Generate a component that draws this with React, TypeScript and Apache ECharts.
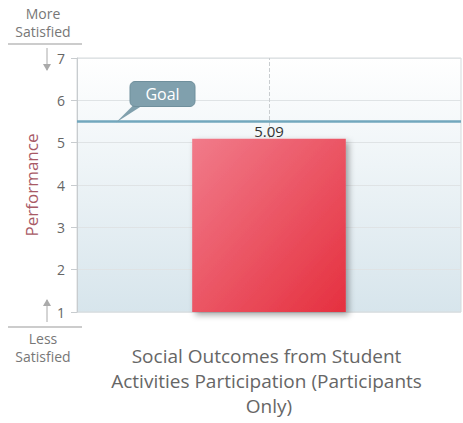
import React, { useEffect, useRef } from "react";
import * as echarts from "echarts";

const categories = ["Social Outcomes from Student Activities Participation (Participants Only)"];
const values = [5.09];
const goalValue = 5.5;
const yMin = 1;
const yMax = 7;
const yInterval = 1;
const topLabel = ["More", "Satisfied"];
const bottomLabel = ["Less", "Satisfied"];

export default function App() {
  const ref = useRef<HTMLDivElement>(null);
  useEffect(() => {
    if (!ref.current) return;
    const chart = echarts.init(ref.current, undefined, { renderer: "svg" });
    const font = "'Open Sans', 'DejaVu Sans', sans-serif";
    const gridLeft = 77;
    const gridTop = 58;
    const gridRight = 2;
    const gridBottom = 111;
    chart.setOption({
      animation: false,
      backgroundColor: "#ffffff",
      textStyle: { fontFamily: font },
      grid: {
        left: gridLeft,
        right: gridRight,
        top: gridTop,
        bottom: gridBottom,
        show: true,
        borderColor: "#d6dadc",
        borderWidth: 1,
        backgroundColor: new echarts.graphic.LinearGradient(0, 0, 0, 1, [
          { offset: 0, color: "#ffffff" },
          { offset: 1, color: "#d7e5ec" },
        ]),
      },
      xAxis: {
        type: "category",
        data: categories,
        axisLine: { show: false },
        axisTick: { show: false },
        splitLine: { show: false },
        axisLabel: {
          color: "#666",
          fontSize: 19,
          lineHeight: 25,
          width: 345,
          overflow: "break",
          margin: 31,
          fontFamily: font,
        },
      },
      yAxis: {
        type: "value",
        min: yMin,
        max: yMax,
        interval: yInterval,
        name: "Performance",
        nameLocation: "middle",
        nameGap: 37,
        nameTextStyle: { color: "#a85a66", fontSize: 17, fontFamily: font },
        axisLine: { show: true, lineStyle: { color: "#c8cccf" } },
        axisTick: { show: true, length: 6, lineStyle: { color: "#c8cccf" } },
        axisLabel: { color: "#666", fontSize: 14, margin: 12 },
        splitLine: { show: true, lineStyle: { color: "#dfe3e5" } },
      },
      series: [
        {
          type: "line",
          data: [],
          z: 1,
          silent: true,
          markLine: {
            symbol: "none",
            silent: true,
            z: 1,
            label: { show: false },
            data: [
              { xAxis: 0, lineStyle: { color: "#c9cdd0", width: 1, type: "dashed" } },
            ],
          },
        },
        {
          type: "bar",
          data: values,
          barWidth: "40%",
          z: 3,
          itemStyle: {
            color: new echarts.graphic.LinearGradient(0, 0, 1, 1, [
              { offset: 0, color: "#f17b8a" },
              { offset: 1, color: "#e5303f" },
            ]),
            shadowColor: "rgba(0,0,0,0.35)",
            shadowBlur: 6,
            shadowOffsetX: 3,
            shadowOffsetY: 3,
          },
          label: {
            show: true,
            position: "top",
            distance: 0,
            color: "#333",
            fontSize: 15,
            formatter: (p: any) => p.value.toFixed(2),
          },
          markLine: {
            symbol: "none",
            silent: true,
            z: 4,
            label: { show: false },
            data: [
              { yAxis: goalValue, lineStyle: { color: "#72a7bd", width: 2.5, type: "solid" } },
            ],
          },
        },
      ],
    });

    const gy = chart.convertToPixel({ yAxisIndex: 0 }, goalValue) as number;
    const y7 = chart.convertToPixel({ yAxisIndex: 0 }, yMax) as number;
    const y1 = chart.convertToPixel({ yAxisIndex: 0 }, yMin) as number;
    const bx = 130;
    const bw = 65;
    const bh = 25;
    const by = gy - 40;
    const small = `14px ${font}`;
    chart.setOption({
      graphic: [
        {
          type: "polygon",
          z: 10,
          shape: { points: [[116, gy + 1], [bx + 4, by + bh - 2], [bx + 14, by + bh - 2]] },
          style: { fill: "#80a0ad" },
        },
        {
          type: "rect",
          z: 10,
          shape: { x: bx, y: by, width: bw, height: bh, r: 5 },
          style: { fill: "#80a0ad", stroke: "#6f8f9c", lineWidth: 1 },
        },
        {
          type: "text",
          z: 11,
          x: bx + bw / 2,
          y: by + bh / 2,
          style: { text: "Goal", fill: "#ffffff", font: `16px ${font}`, align: "center", verticalAlign: "middle" },
        },
        {
          type: "text",
          x: 43,
          y: 13,
          style: { text: topLabel[0], fill: "#777", font: small, align: "center", verticalAlign: "middle" },
        },
        {
          type: "text",
          x: 43,
          y: 31,
          style: { text: topLabel[1], fill: "#777", font: small, align: "center", verticalAlign: "middle" },
        },
        {
          type: "line",
          shape: { x1: 8, y1: 44, x2: 82, y2: 44 },
          style: { stroke: "#999", lineWidth: 1 },
        },
        {
          type: "line",
          shape: { x1: 47, y1: y7 - 10, x2: 47, y2: y7 + 12 },
          style: { stroke: "#aaa", lineWidth: 1 },
        },
        {
          type: "polygon",
          shape: { points: [[43, y7 + 6], [51, y7 + 6], [47, y7 + 13]] },
          style: { fill: "#aaa" },
        },
        {
          type: "line",
          shape: { x1: 47, y1: y1 - 12, x2: 47, y2: y1 + 10 },
          style: { stroke: "#aaa", lineWidth: 1 },
        },
        {
          type: "polygon",
          shape: { points: [[43, y1 - 6], [51, y1 - 6], [47, y1 - 13]] },
          style: { fill: "#aaa" },
        },
        {
          type: "line",
          shape: { x1: 8, y1: y1 + 15, x2: 82, y2: y1 + 15 },
          style: { stroke: "#999", lineWidth: 1 },
        },
        {
          type: "text",
          x: 43,
          y: y1 + 26,
          style: { text: bottomLabel[0], fill: "#777", font: small, align: "center", verticalAlign: "middle" },
        },
        {
          type: "text",
          x: 43,
          y: y1 + 44,
          style: { text: bottomLabel[1], fill: "#777", font: small, align: "center", verticalAlign: "middle" },
        },
      ],
    });
    return () => chart.dispose();
  }, []);
  return <div ref={ref} style={{ width: 463, height: 423, position: "absolute", left: 0, top: 0 }} />;
}
